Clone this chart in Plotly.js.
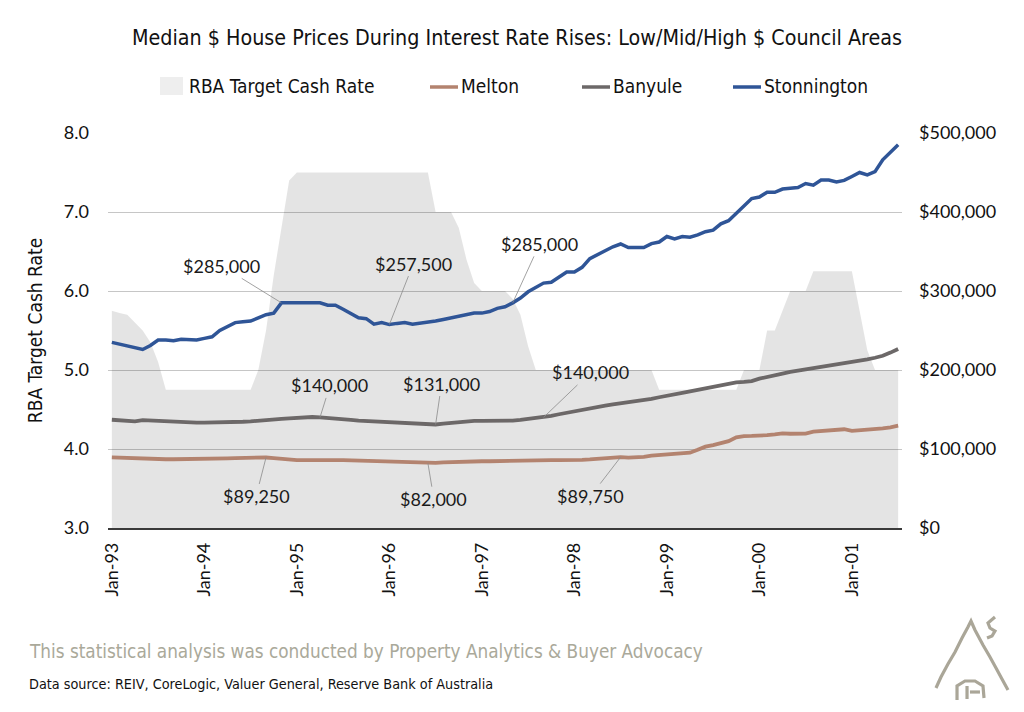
<!DOCTYPE html>
<html>
<head>
<meta charset="utf-8">
<script src="https://cdn.plot.ly/plotly-3.0.1.min.js"></script>
<style>html,body{margin:0;padding:0;background:#fff;}#chart{width:1024px;height:712px;}</style>
</head>
<body>
<div id="chart"></div>
<script>
// ---------- DATA ----------
const monthNames = ['Jan','Feb','Mar','Apr','May','Jun','Jul','Aug','Sep','Oct','Nov','Dec'];
const yearLabels = ['93','94','95','96','97','98','99','00','01'];
const tickLabels = ['Jan-93','Jan-94','Jan-95','Jan-96','Jan-97','Jan-98','Jan-99','Jan-00','Jan-01'];

const cashRate = [
  5.75,5.72,5.7,5.6,5.5,5.35,5.1,4.75,
  4.75,4.75,4.75,4.75,4.75,4.75,4.75,4.75,4.75,4.75,4.75,
  5.0,5.5,6.2,6.8,7.4,7.5,
  7.5,7.5,7.5,7.5,7.5,7.5,7.5,7.5,7.5,7.5,7.5,7.5,7.5,7.5,7.5,7.5,7.5,
  7.0,7.0,7.0,
  6.8,6.4,6.1,
  6.0,6.0,6.0,6.0,
  5.9,5.7,5.3,5.0,
  5.0,5.0,5.0,5.0,5.0,5.0,5.0,5.0,5.0,5.0,5.0,5.0,5.0,5.0,5.0,
  4.75,4.75,4.75,4.75,4.75,4.75,4.75,4.75,4.75,4.75,4.75,
  5.0,5.0,5.0,
  5.5,5.5,5.75,
  6.0,6.0,6.0,
  6.25,6.25,6.25,6.25,6.25,6.25,
  5.75,5.25,5.0,5.0,5.0,5.0
];

const melton = [
  89500,89000,88500,88500,88000,87500,87000,87000,87000,87000,
  87000,87500,87500,88000,88000,88200,88500,88800,89000,89200,
  89250,88500,87500,86500,86000,86000,86200,86000,86000,86000,
  85800,85500,85500,85500,85000,84500,84000,84000,83500,83000,
  82500,82000,82500,83000,83500,84000,84000,84200,84500,84500,
  84800,85000,85200,85500,86000,86000,86000,86000,85800,85600,
  86000,86300,86800,87300,87800,88500,89750,89000,89000,90000,
  91500,92400,93000,93800,94500,95300,99000,103000,105000,107000,
  110000,114800,116300,116500,116500,117500,118500,119800,119300,119000,
  119500,121900,122500,123500,124200,125000,123000,123500,124500,125000,
  126000,127500,129500
];

const banyule = [
  137000,136000,135000,135000,136500,136000,135000,134500,134500,134000,
  133500,133500,133300,133300,133500,134000,134000,134500,135000,135500,
  136000,137000,138000,138800,139500,140000,140500,140000,139500,138500,
  138000,137000,136000,135500,134500,134000,133300,133000,132500,132000,
  131600,131500,131000,132000,133000,134500,135500,135500,135500,135500,
  135700,135900,136000,137000,138000,139000,140000,142000,144000,146000,
  147000,149000,151000,153600,155000,156500,157800,159000,160500,162000,
  163500,165500,167000,169000,171000,173000,175000,176800,179000,181000,
  182500,184400,185000,186000,189000,191500,193700,195500,197500,199000,
  200500,202500,204000,205500,207000,208500,210000,211500,213500,215500,
  218000,222000,226600
];

const stonnington = [
  235000,233000,231000,229000,226000,231000,238000,238000,237000,239000,
  238000,238000,240000,242000,250000,255000,260000,261000,262000,266000,
  270000,272000,285000,285000,285000,285000,285000,285000,282000,282000,
  277000,272000,266000,265000,258000,260000,257500,259000,260000,258000,
  259000,260000,262000,264000,266000,268000,271000,272000,272000,274000,
  278000,280000,285000,291000,299000,304000,310000,311000,318000,324000,
  324000,330000,341000,346000,351000,356000,359500,355000,355000,355000,
  360000,362000,369000,366000,369000,368000,371000,375000,377000,385000,
  389000,398000,408000,417000,419000,425000,425000,429000,430000,431000,
  436000,434000,440500,440500,438000,440000,445000,450000,447000,451000,
  466000,475000,485000
];

const seriesNames = ['RBA Target Cash Rate','Melton','Banyule','Stonnington'];
const seriesColors = ['#e6e6e6','#b3836f','#6c6868','#2f5597'];

// callouts: [series, month index, text dx, text dy]
const callouts = [
  ['Stonnington',22,-60,-37],
  ['Stonnington',36,24,-61],
  ['Stonnington',52,27,-59],
  ['Banyule',27,10,-32],
  ['Banyule',42,6,-41],
  ['Banyule',56,47,-45],
  ['Melton',20,-10,39],
  ['Melton',41,6,36],
  ['Melton',66,-30,39]
];

// ---------- BUILD ----------
const months = [];
for (const y of yearLabels) for (const m of monthNames) if (months.length < cashRate.length) months.push(m + '-' + y);

const seriesData = {Melton: melton, Banyule: banyule, Stonnington: stonnington};

const W = 1024, H = 712, L = 108, R = 902, T = 133, B = 528;
const px = x => (x - L) / (R - L);
const py = y => (B - y) / (B - T);

const numFont = 'Lato, "Open Sans", sans-serif';
const narrowFont = '"Liberation Sans Narrow", "Arial Narrow", "DejaVu Sans Condensed", sans-serif';

const traces = [
  {x: months, y: cashRate, type: 'scatter', mode: 'lines', name: seriesNames[0],
   fill: 'tozeroy', fillcolor: 'rgba(0,0,0,0.105)', line: {width: 0, color: 'rgba(0,0,0,0)'},
   yaxis: 'y', hoverinfo: 'skip'},
  {x: months, y: melton, type: 'scatter', mode: 'lines', name: seriesNames[1],
   line: {color: seriesColors[1], width: 3.8}, yaxis: 'y2'},
  {x: months, y: banyule, type: 'scatter', mode: 'lines', name: seriesNames[2],
   line: {color: seriesColors[2], width: 3.8}, yaxis: 'y2'},
  {x: months, y: stonnington, type: 'scatter', mode: 'lines', name: seriesNames[3],
   line: {color: seriesColors[3], width: 3.5}, yaxis: 'y2'}
];

const fmt = v => '$' + v.toLocaleString('en-US');

const annotations = callouts.map(c => {
  const arr = seriesData[c[0]];
  return {x: months[c[1]], y: arr[c[1]], xref: 'x', yref: 'y2', text: fmt(arr[c[1]]),
    showarrow: true, arrowhead: 0, arrowwidth: 0.8, arrowcolor: '#8a8a8a',
    ax: c[2], ay: c[3], standoff: 0,
    font: {family: numFont, size: 18, color: '#1a1a1a'}};
});

// manual legend
const legendItems = [
  {sx: 160, tx: 187},
  {sx: 430, tx: 459},
  {sx: 582, tx: 611},
  {sx: 733, tx: 762}
];
const legY = 86;
const shapes = [];
legendItems.forEach((it, i) => {
  if (i === 0) {
    shapes.push({type: 'rect', xref: 'paper', yref: 'paper', x0: px(it.sx), x1: px(it.sx + 23),
      y0: py(legY - 9), y1: py(legY + 9), fillcolor: '#eeeeee', line: {width: 0}});
  } else {
    shapes.push({type: 'line', xref: 'paper', yref: 'paper', x0: px(it.sx), x1: px(it.sx + 28),
      y0: py(legY + 1), y1: py(legY + 1), line: {color: seriesColors[i], width: 3.5}});
  }
  annotations.push({xref: 'paper', yref: 'paper', x: px(it.tx), y: py(legY), xanchor: 'left', yanchor: 'middle',
    text: seriesNames[i], showarrow: false, font: {family: narrowFont, size: 19, color: '#111'}});
});

// footer text
annotations.push({xref: 'paper', yref: 'paper', x: px(27), y: py(651), xanchor: 'left', yanchor: 'middle',
  text: 'This statistical analysis was conducted by Property Analytics &amp; Buyer Advocacy', showarrow: false,
  font: {family: narrowFont, size: 18.8, color: '#aaa99a'}});
annotations.push({xref: 'paper', yref: 'paper', x: px(27), y: py(684), xanchor: 'left', yanchor: 'middle',
  text: 'Data source: REIV, CoreLogic, Valuer General, Reserve Bank of Australia', showarrow: false,
  font: {family: narrowFont, size: 14.3, color: '#111'}});

// logo (decorative hand-drawn house)
const toPath = pts => pts.map((p, k) => (k === 0 ? 'M' : 'L') + px(p[0]).toFixed(4) + ',' + py(p[1]).toFixed(4)).join(' ');
const logoColor = '#aaa698';
[
  [[936,688],[941,677],[948,664],[955,652],[962,638],[968,627],[971,621],[975,630],[983,645],[990,657],[996,668],[1002,679],[1008,690]],
  [[995,617],[988,623],[990,628],[995,631],[992,636],[987,638]],
  [[957,700],[957,686],[965,681],[975,681],[983,686],[984,698]],
  [[967,686],[967,699]],
  [[970,692],[980,692]]
].forEach(p => shapes.push({type: 'path', xref: 'paper', yref: 'paper', path: toPath(p),
  line: {color: logoColor, width: 3.2}}));

const layout = {
  width: W, height: H,
  margin: {l: L, r: W - R, t: T, b: H - B, pad: 0},
  paper_bgcolor: '#ffffff', plot_bgcolor: '#ffffff',
  showlegend: false,
  title: {text: 'Median $ House Prices During Interest Rate Rises: Low/Mid/High $ Council Areas',
    x: 517 / W, xanchor: 'center', xref: 'container', y: 1 - 38 / H, yanchor: 'middle', yref: 'container',
    font: {family: narrowFont, size: 21.3, color: '#111'}},
  xaxis: {type: 'category', range: [-0.5, months.length - 0.5], tickvals: tickLabels, ticktext: tickLabels,
    tickangle: -90, showgrid: false, showline: true, linecolor: '#3a3a3a', linewidth: 1.5,
    ticks: '', ticklabelstandoff: 6, zeroline: false,
    tickfont: {family: numFont, size: 18, color: '#111'}, fixedrange: true},
  yaxis: {range: [3, 8], dtick: 1, tickformat: '.1f', showgrid: true, gridcolor: '#c6c6c6', gridwidth: 1,
    showline: false, zeroline: false, ticks: '', ticklabelstandoff: 18,
    tickfont: {family: numFont, size: 18, color: '#111'},
    title: {text: 'RBA Target Cash Rate', standoff: 16, font: {family: narrowFont, size: 19, color: '#111'}}},
  yaxis2: {range: [0, 500000], dtick: 100000, tickformat: '$,.0f', overlaying: 'y', side: 'right',
    showgrid: false, showline: false, zeroline: false, ticks: '', ticklabelstandoff: 16,
    tickfont: {family: numFont, size: 18, color: '#111'}},
  annotations: annotations,
  shapes: shapes
};

Plotly.newPlot('chart', traces, layout, {staticPlot: true, displayModeBar: false});
</script>
</body>
</html>
